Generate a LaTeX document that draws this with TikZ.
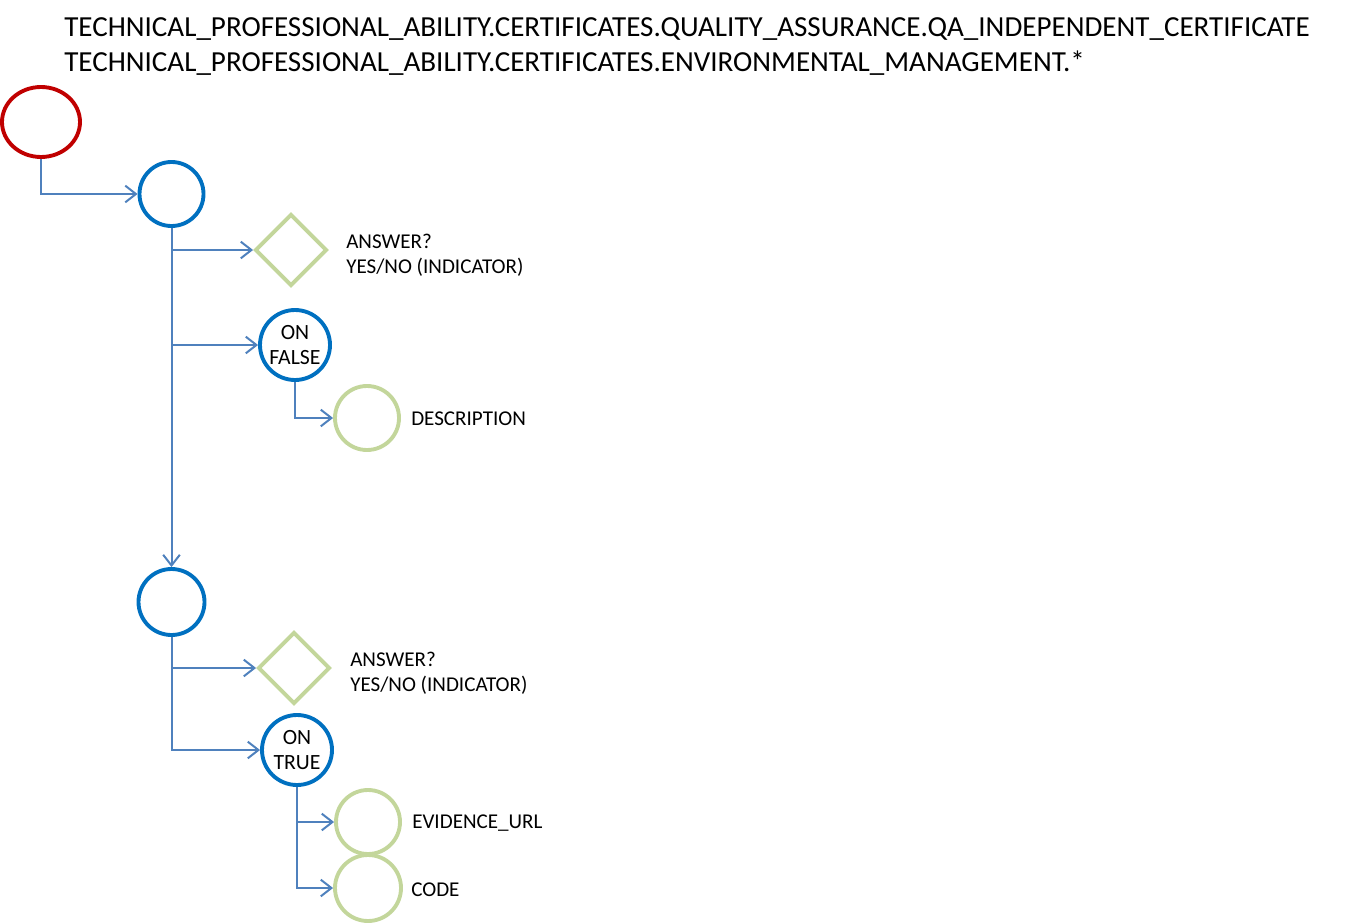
\documentclass[tikz,border=0pt]{standalone}
\usepackage{fontspec}
\setmainfont{Carlito}
\usetikzlibrary{arrows.meta,shapes.geometric}
\definecolor{startred}{HTML}{C00000}
\definecolor{nodeblue}{HTML}{0070C0}
\definecolor{leafgreen}{HTML}{C3D69B}
\definecolor{linkblue}{HTML}{4F81BD}
\begin{document}
\begin{tikzpicture}[x=0.75pt,y=-0.75pt,
  startnode/.style={ellipse,draw=startred,line width=2.9pt,minimum width=58.5pt,minimum height=52.5pt,inner sep=0pt},
  groupnode/.style={circle,draw=nodeblue,line width=2.9pt,minimum size=48pt,inner sep=0pt},
  condnode/.style={circle,draw=nodeblue,line width=2.9pt,minimum size=52.5pt,inner sep=0pt,align=center,font=\fontsize{16.3}{18.75}\selectfont},
  leafnode/.style={circle,draw=leafgreen,line width=2.9pt,minimum size=48pt,inner sep=0pt},
  asknode/.style={diamond,draw=leafgreen,line width=2.9pt,minimum width=54pt,minimum height=54pt,inner sep=0pt},
  lbl/.style={anchor=west,align=left,inner sep=0pt,font=\fontsize{15.8}{18.75}\selectfont},
  link/.style={draw=linkblue,line width=1.5pt,-{Straight Barb[length=8pt,width=12.5pt,line width=1.5pt]}}
]
\useasboundingbox (0,0) rectangle (1349,924);
\node[anchor=west,inner sep=0pt,align=left,font=\fontsize{21.8}{26.25}\selectfont] (title) at (64,47)
 {TECHNICAL\_PROFESSIONAL\_ABILITY.CERTIFICATES.QUALITY\_ASSURANCE.QA\_INDEPENDENT\_CERTIFICATE\\
  TECHNICAL\_PROFESSIONAL\_ABILITY.CERTIFICATES.ENVIRONMENTAL\_MANAGEMENT.*};

\node[startnode] (start) at (41,122) {};
\node[groupnode] (ga) at (171.5,194) {};
\node[asknode] (da) at (291,250) {};
\node[condnode] (of) at (295,345) {ON\\FALSE};
\node[leafnode] (desc) at (367,418) {};
\node[groupnode,minimum size=49.5pt] (gb) at (171.5,602) {};
\node[asknode] (db) at (294,668) {};
\node[condnode] (ot) at (297,750) {ON\\TRUE};
\node[leafnode] (ev) at (368,822) {};
\node[leafnode,minimum size=49.5pt] (code) at (368,888) {};

\node[lbl] (la) at (346,255) {ANSWER?\\YES/NO (INDICATOR)};
\node[lbl] (ld) at (411,419) {DESCRIPTION};
\node[lbl] (lb) at (350,673) {ANSWER?\\YES/NO (INDICATOR)};
\node[lbl] (le) at (412,823) {EVIDENCE\_URL};
\node[lbl] (lc) at (411,890) {CODE};

\draw[link] (start.south) |- (ga.west);
\draw[link] (ga.south) -- (gb.north);
\draw[link] (ga.south) |- (da.west);
\draw[link] (ga.south) |- (of.west);
\draw[link] (of.south) |- (desc.west);
\draw[link] (gb.south) |- (db.west);
\draw[link] (gb.south) |- (ot.west);
\draw[link] (ot.south) |- (ev.west);
\draw[link] (ot.south) |- (code.west);
\end{tikzpicture}
\end{document}
